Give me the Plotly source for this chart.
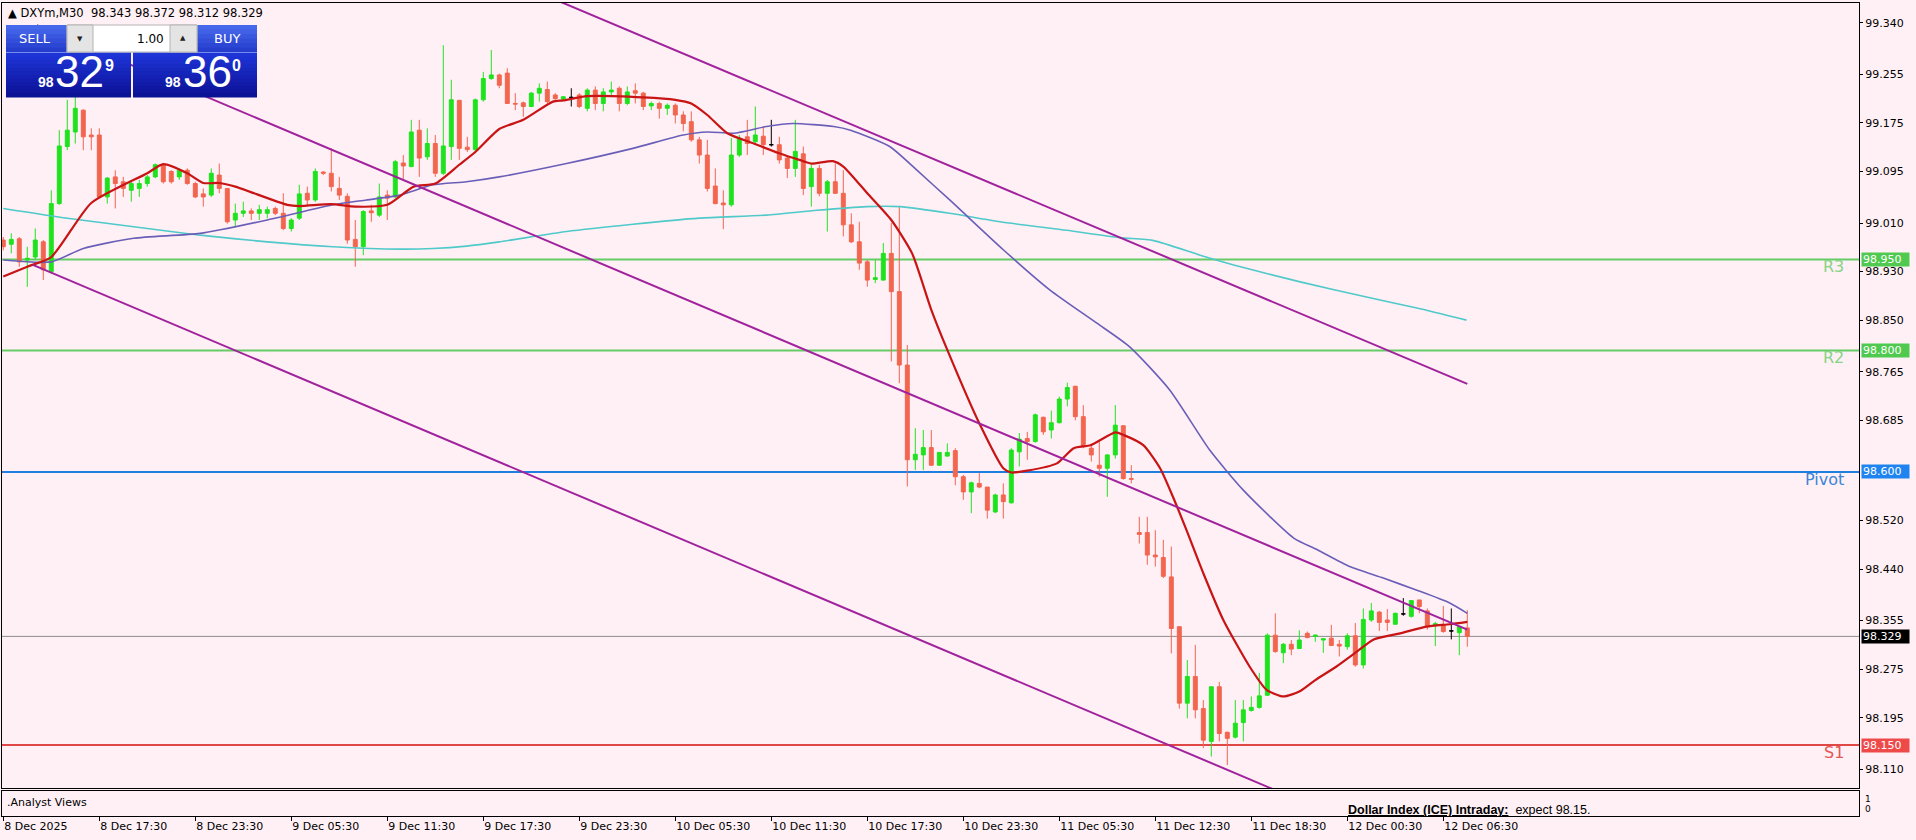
import plotly.graph_objects as go

# ======================= DATA =======================
symbol = "DXYm,M30"
last_bar_ohlc = [98.343, 98.372, 98.312, 98.329]
sell_price = "98.329"
buy_price = "98.360"
lot_size = "1.00"

time_labels = ["8 Dec 2025", "8 Dec 17:30", "8 Dec 23:30", "9 Dec 05:30", "9 Dec 11:30",
               "9 Dec 17:30", "9 Dec 23:30", "10 Dec 05:30", "10 Dec 11:30", "10 Dec 17:30",
               "10 Dec 23:30", "11 Dec 05:30", "11 Dec 12:30", "11 Dec 18:30", "12 Dec 00:30",
               "12 Dec 06:30"]
time_label_bars = [0, 12, 24, 36, 48, 60, 72, 84, 96, 108, 120, 132, 144, 156, 168, 180]

opens = [98.982, 98.975, 98.984, 98.949, 98.954, 98.979, 98.930, 99.042, 99.136, 99.160,
         99.196, 99.155, 99.155, 99.053, 99.086, 99.078, 99.064, 99.067, 99.075, 99.086,
         99.106, 99.095, 99.086, 99.097, 99.075, 99.058, 99.056, 99.089, 99.067, 99.015,
         99.026, 99.030, 99.026, 99.026, 99.034, 99.026, 99.001, 99.018, 99.059, 99.048,
         99.094, 99.092, 99.067, 99.054, 98.983, 98.971, 99.030, 99.023, 99.056, 99.053,
         99.109, 99.103, 99.163, 99.119, 99.141, 99.092, 99.136, 99.212, 99.135, 99.131,
         99.213, 99.248, 99.254, 99.257, 99.207, 99.208, 99.202, 99.224, 99.230, 99.221,
         99.214, 99.217, 99.221, 99.199, 99.229, 99.207, 99.226, 99.232, 99.207, 99.228,
         99.224, 99.203, 99.207, 99.199, 99.204, 99.188, 99.177, 99.147, 99.122, 99.071,
         99.043, 99.040, 99.122, 99.152, 99.144, 99.153, 99.139, 99.139, 99.117, 99.100,
         99.124, 99.070, 99.100, 99.059, 99.078, 99.059, 99.007, 98.979, 98.946, 98.917,
         98.916, 98.960, 98.897, 98.776, 98.620, 98.628, 98.640, 98.611, 98.626, 98.635,
         98.592, 98.567, 98.581, 98.575, 98.534, 98.562, 98.549, 98.633, 98.655, 98.650,
         98.690, 98.669, 98.681, 98.720, 98.741, 98.691, 98.639, 98.611, 98.606, 98.628,
         98.676, 98.589, 98.500, 98.500, 98.463, 98.459, 98.427, 98.345, 98.219, 98.263,
         98.210, 98.156, 98.246, 98.171, 98.163, 98.187, 98.207, 98.212, 98.232, 98.331,
         98.302, 98.316, 98.309, 98.334, 98.329, 98.323, 98.326, 98.316, 98.312, 98.330,
         98.282, 98.356, 98.369, 98.356, 98.349, 98.366, 98.362, 98.389, 98.371, 98.347,
         98.348, 98.338, 98.335, 98.343]
highs = [98.987, 98.993, 98.987, 98.971, 99.001, 98.982, 99.064, 99.163, 99.213, 99.218,
         99.197, 99.166, 99.166, 99.086, 99.097, 99.086, 99.081, 99.081, 99.089, 99.108,
         99.108, 99.097, 99.100, 99.100, 99.078, 99.067, 99.100, 99.108, 99.067, 99.042,
         99.045, 99.034, 99.040, 99.037, 99.037, 99.059, 99.018, 99.073, 99.070, 99.100,
         99.095, 99.133, 99.086, 99.059, 99.015, 99.031, 99.040, 99.075, 99.064, 99.114,
         99.122, 99.180, 99.180, 99.166, 99.155, 99.303, 99.246, 99.213, 99.152, 99.215,
         99.259, 99.295, 99.256, 99.265, 99.224, 99.210, 99.226, 99.240, 99.243, 99.224,
         99.219, 99.232, 99.224, 99.232, 99.235, 99.232, 99.243, 99.235, 99.235, 99.240,
         99.226, 99.210, 99.210, 99.207, 99.207, 99.194, 99.194, 99.152, 99.147, 99.100,
         99.064, 99.150, 99.155, 99.180, 99.202, 99.169, 99.180, 99.152, 99.119, 99.180,
         99.136, 99.106, 99.106, 99.081, 99.108, 99.097, 99.026, 99.012, 98.949, 98.949,
         98.977, 99.010, 99.037, 98.809, 98.672, 98.669, 98.669, 98.633, 98.647, 98.639,
         98.595, 98.584, 98.598, 98.575, 98.564, 98.581, 98.639, 98.664, 98.666, 98.696,
         98.691, 98.701, 98.724, 98.747, 98.742, 98.710, 98.644, 98.650, 98.629, 98.710,
         98.677, 98.611, 98.526, 98.526, 98.504, 98.488, 98.477, 98.345, 98.290, 98.315,
         98.224, 98.246, 98.254, 98.172, 98.224, 98.224, 98.230, 98.269, 98.334, 98.367,
         98.318, 98.323, 98.339, 98.337, 98.332, 98.325, 98.348, 98.323, 98.334, 98.351,
         98.375, 98.384, 98.371, 98.374, 98.368, 98.392, 98.389, 98.389, 98.375, 98.353,
         98.379, 98.375, 98.346, 98.372]
lows = [98.965, 98.960, 98.938, 98.905, 98.949, 98.916, 98.927, 99.040, 99.130, 99.141,
        99.130, 99.130, 99.051, 99.042, 99.034, 99.053, 99.045, 99.053, 99.070, 99.084,
        99.075, 99.075, 99.081, 99.073, 99.051, 99.037, 99.053, 99.059, 99.009, 99.004,
        99.020, 99.015, 99.015, 99.018, 99.023, 98.998, 98.996, 99.015, 99.037, 99.045,
        99.089, 99.062, 99.048, 98.976, 98.938, 98.957, 99.012, 99.020, 99.015, 99.051,
        99.081, 99.102, 99.086, 99.114, 99.086, 99.089, 99.114, 99.114, 99.127, 99.125,
        99.210, 99.246, 99.232, 99.206, 99.196, 99.185, 99.201, 99.210, 99.207, 99.210,
        99.213, 99.202, 99.199, 99.194, 99.196, 99.194, 99.221, 99.194, 99.204, 99.207,
        99.196, 99.196, 99.182, 99.188, 99.174, 99.161, 99.144, 99.108, 99.062, 99.041,
        99.000, 99.037, 99.119, 99.122, 99.141, 99.122, 99.136, 99.108, 99.084, 99.086,
        99.056, 99.037, 99.054, 98.996, 99.058, 98.988, 98.977, 98.933, 98.905, 98.911,
        98.915, 98.782, 98.746, 98.576, 98.603, 98.603, 98.610, 98.610, 98.625, 98.578,
        98.554, 98.532, 98.573, 98.523, 98.532, 98.523, 98.548, 98.609, 98.620, 98.648,
        98.661, 98.655, 98.680, 98.708, 98.685, 98.639, 98.617, 98.592, 98.559, 98.622,
        98.587, 98.581, 98.482, 98.447, 98.444, 98.425, 98.301, 98.210, 98.194, 98.194,
        98.145, 98.131, 98.156, 98.117, 98.161, 98.156, 98.205, 98.210, 98.231, 98.302,
        98.285, 98.298, 98.308, 98.326, 98.320, 98.302, 98.313, 98.296, 98.307, 98.279,
        98.276, 98.353, 98.338, 98.338, 98.348, 98.363, 98.360, 98.367, 98.340, 98.313,
        98.335, 98.324, 98.298, 98.312]
closes = [98.971, 98.983, 98.946, 98.952, 98.982, 98.933, 99.042, 99.137, 99.163, 99.199,
          99.152, 99.152, 99.053, 99.084, 99.075, 99.067, 99.075, 99.075, 99.086, 99.106,
          99.078, 99.078, 99.097, 99.075, 99.053, 99.053, 99.092, 99.067, 99.012, 99.026,
          99.030, 99.026, 99.032, 99.032, 99.026, 99.001, 99.015, 99.058, 99.048, 99.095,
          99.092, 99.070, 99.056, 98.982, 98.971, 99.029, 99.027, 99.053, 99.051, 99.111,
          99.104, 99.160, 99.117, 99.141, 99.092, 99.137, 99.213, 99.133, 99.131, 99.213,
          99.248, 99.254, 99.237, 99.207, 99.206, 99.202, 99.224, 99.232, 99.210, 99.215,
          99.218, 99.217, 99.202, 99.229, 99.207, 99.226, 99.229, 99.207, 99.226, 99.224,
          99.202, 99.207, 99.199, 99.204, 99.188, 99.174, 99.147, 99.122, 99.067, 99.042,
          99.040, 99.122, 99.150, 99.141, 99.155, 99.139, 99.139, 99.114, 99.100, 99.128,
          99.067, 99.100, 99.059, 99.078, 99.059, 99.007, 98.979, 98.944, 98.916, 98.920,
          98.960, 98.897, 98.776, 98.620, 98.629, 98.640, 98.611, 98.632, 98.632, 98.592,
          98.567, 98.582, 98.575, 98.537, 98.562, 98.551, 98.636, 98.654, 98.650, 98.694,
          98.666, 98.681, 98.720, 98.739, 98.691, 98.642, 98.628, 98.606, 98.628, 98.677,
          98.589, 98.588, 98.497, 98.463, 98.460, 98.428, 98.342, 98.219, 98.263, 98.208,
          98.158, 98.246, 98.169, 98.161, 98.186, 98.208, 98.212, 98.231, 98.331, 98.304,
          98.316, 98.308, 98.323, 98.327, 98.331, 98.325, 98.314, 98.313, 98.330, 98.282,
          98.357, 98.371, 98.352, 98.352, 98.367, 98.366, 98.388, 98.378, 98.346, 98.350,
          98.337, 98.338, 98.345, 98.329]

# moving averages (bar position, value)
ma_fast_bars = [0, 3, 6, 11, 18, 20, 23, 25, 27, 29, 35.5, 37, 41, 44, 48, 51.3, 54, 57, 59,
                62, 65, 68.7, 70, 73, 80, 84, 86, 88, 90.5, 93.8, 97, 99.5, 101, 103.7, 105,
                108, 111, 113.6, 116, 118, 122, 125, 126, 128, 131.7, 133.8, 135.9, 139, 140,
                142.5, 144.6, 146.2, 147.9, 150, 152.5, 155.8, 157.9, 160, 162, 164, 166.6,
                169.2, 171.3, 174.6, 177.9, 180.8, 183]
ma_fast_vals = [98.922, 98.938, 98.954, 99.043, 99.092, 99.107, 99.092, 99.076, 99.076, 99.070,
                99.040, 99.038, 99.041, 99.037, 99.040, 99.070, 99.075, 99.106, 99.127, 99.165,
                99.180, 99.210, 99.212, 99.219, 99.217, 99.213, 99.207, 99.188, 99.158, 99.141,
                99.125, 99.114, 99.108, 99.112, 99.103, 99.059, 99.015, 98.960, 98.867, 98.801,
                98.680, 98.606, 98.599, 98.602, 98.614, 98.639, 98.644, 98.665, 98.661, 98.644,
                98.606, 98.559, 98.504, 98.433, 98.356, 98.279, 98.241, 98.230, 98.238, 98.257,
                98.279, 98.304, 98.324, 98.334, 98.345, 98.349, 98.353]
ma_mid_bars = [0, 6, 10, 16.3, 24.6, 33, 41.2, 45.4, 49.6, 53.7, 57.9, 62, 70.4, 78.7, 85, 88,
               91.3, 95.4, 98.7, 103.8, 105.9, 110.8, 114.2, 118.3, 125, 130.8, 136.7, 140.8,
               145.8, 150.8, 155, 161.3, 164.2, 168.3, 172.5, 176.7, 180.8, 183]
ma_mid_vals = [98.949, 98.946, 98.968, 98.985, 98.993, 99.015, 99.040, 99.048, 99.056, 99.073,
               99.078, 99.086, 99.108, 99.133, 99.155, 99.160, 99.158, 99.169, 99.174, 99.169,
               99.163, 99.136, 99.097, 99.048, 98.966, 98.900, 98.845, 98.806, 98.735, 98.636,
               98.570, 98.491, 98.472, 98.444, 98.425, 98.405, 98.384, 98.367]
ma_slow_bars = [0, 8, 16.3, 24.6, 33, 41.2, 49.6, 53.7, 57.9, 62, 70.4, 78.7, 87, 95.4, 101.7,
                107.9, 112.1, 118.3, 124.6, 132.9, 139.6, 143.8, 149.6, 153.8, 162.1, 170.4,
                176.7, 182.9]
ma_slow_vals = [99.034, 99.018, 99.004, 98.990, 98.979, 98.971, 98.967, 98.968, 98.972, 98.979,
                98.996, 99.008, 99.018, 99.023, 99.031, 99.037, 99.037, 99.026, 99.012, 98.998,
                98.986, 98.981, 98.957, 98.941, 98.913, 98.888, 98.870, 98.850]

# descending channel (anchor bar, price)
channel_upper_bars = [4, 183]
channel_upper_vals = [99.739, 98.745]
channel_mid_bars = [4.2, 183]
channel_mid_vals = [99.336, 98.340]
channel_lower_bars = [3.7, 183]
channel_lower_vals = [98.941, 97.942]

level_names = ["R3", "R2", "Pivot", "S1"]
level_values = [98.950, 98.800, 98.600, 98.150]
current_price = 98.329

price_ticks = [99.340, 99.255, 99.175, 99.095, 99.010, 98.930, 98.850, 98.765, 98.685,
               98.520, 98.440, 98.355, 98.275, 98.195, 98.110]
y_range = [98.0792, 99.3725]
x_range = [-0.16, 231.96]

pane_name = ".Analyst Views"
view_title = "Dollar Index (ICE) Intraday:"
view_text = "expect 98.15."

# ======================= STYLE =======================
W, H = 1916, 840
PL, PR, PT, PB = 2, 1859, 3, 816
MAIN_BOTTOM, SUB_TOP = 788, 791
BG = "#fff0f5"
BULL = "#1fe21f"
BEAR = "#f2654f"
DOJI = "#000000"
MA_FAST_C = "#c81414"
MA_MID_C = "#6a5fb8"
MA_SLOW_C = "#4fc9c9"
CHANNEL_C = "#a0229c"
LEVEL_LINE_C = {"R3": "#66cc66", "R2": "#66cc66", "Pivot": "#1f7fe0", "S1": "#e04848"}
LEVEL_BOX_C = {"R3": "#4fc94f", "R2": "#4fc94f", "Pivot": "#1f84f0", "S1": "#ee4a4a"}
LEVEL_TXT_C = {"R3": "#86d486", "R2": "#86d486", "Pivot": "#3d85d6", "S1": "#e45454"}
FONT = "DejaVu Sans"


def fx(px):
    return (px - PL) / (PR - PL)


def fy(py):
    return (PB - py) / (PB - PT)


fig = go.Figure()

# candles
idx = list(range(len(opens)))
norm = [i for i in idx if opens[i] != closes[i]]
doji = [i for i in idx if opens[i] == closes[i]]
fig.add_trace(go.Candlestick(
    x=[idx[i] for i in norm], open=[opens[i] for i in norm], high=[highs[i] for i in norm],
    low=[lows[i] for i in norm], close=[closes[i] for i in norm],
    increasing=dict(line=dict(color=BULL, width=1), fillcolor=BULL),
    decreasing=dict(line=dict(color=BEAR, width=1), fillcolor=BEAR),
    whiskerwidth=0, showlegend=False, xaxis="x", yaxis="y"))
fig.add_trace(go.Candlestick(
    x=[idx[i] for i in doji], open=[opens[i] for i in doji], high=[highs[i] for i in doji],
    low=[lows[i] for i in doji], close=[closes[i] for i in doji],
    increasing=dict(line=dict(color=DOJI, width=1), fillcolor=DOJI),
    decreasing=dict(line=dict(color=DOJI, width=1), fillcolor=DOJI),
    whiskerwidth=0, showlegend=False, xaxis="x", yaxis="y"))

# moving averages
for bx, vals, col, w in [(ma_slow_bars, ma_slow_vals, MA_SLOW_C, 1.6),
                         (ma_mid_bars, ma_mid_vals, MA_MID_C, 1.6),
                         (ma_fast_bars, ma_fast_vals, MA_FAST_C, 2.2)]:
    fig.add_trace(go.Scatter(x=bx, y=vals, mode="lines",
                             line=dict(color=col, width=w, shape="spline", smoothing=0.6),
                             showlegend=False, hoverinfo="skip"))

# channel lines
for bx, vals in [(channel_upper_bars, channel_upper_vals),
                 (channel_mid_bars, channel_mid_vals),
                 (channel_lower_bars, channel_lower_vals)]:
    fig.add_trace(go.Scatter(x=bx, y=vals, mode="lines", line=dict(color=CHANNEL_C, width=2),
                             showlegend=False, hoverinfo="skip"))

# empty sub pane trace to keep axes alive
fig.add_trace(go.Scatter(x=[0], y=[0.5], mode="markers", marker=dict(opacity=0),
                         xaxis="x2", yaxis="y2", showlegend=False, hoverinfo="skip"))

shapes = []
annotations = []

# pivot levels
for name, val in zip(level_names, level_values):
    shapes.append(dict(type="line", xref="x domain", yref="y", x0=0, x1=1, y0=val, y1=val,
                       line=dict(color=LEVEL_LINE_C[name], width=2), layer="below"))
    annotations.append(dict(xref="paper", yref="y", x=1, y=val, xanchor="left", yanchor="middle",
                            xshift=2, text=f"{val:.3f}", showarrow=False,
                            font=dict(family=FONT, size=11, color="white"),
                            bgcolor=LEVEL_BOX_C[name], width=45, height=11, borderpad=1,
                            align="left"))
    annotations.append(dict(xref="paper", yref="y", x=1, y=val, xanchor="right", yanchor="top",
                            xshift=-13, yshift=4, text=name, showarrow=False,
                            font=dict(family=FONT, size=16, color=LEVEL_TXT_C[name])))

# current price line
shapes.append(dict(type="line", xref="x domain", yref="y", x0=0, x1=1, y0=current_price,
                   y1=current_price, line=dict(color="#8c8c8c", width=1), layer="below"))
annotations.append(dict(xref="paper", yref="y", x=1, y=current_price, xanchor="left",
                        yanchor="middle", xshift=2, text=f"{current_price:.3f}", showarrow=False,
                        font=dict(family=FONT, size=11, color="white"), bgcolor="#000000",
                        width=45, height=11, borderpad=1, align="left"))


def rect(x0, y0, x1, y1, fill, line=None):
    shapes.append(dict(type="rect", xref="paper", yref="paper", x0=fx(x0), x1=fx(x1),
                       y0=fy(y1), y1=fy(y0), fillcolor=fill, layer="above",
                       line=dict(width=0) if line is None else dict(color=line, width=1)))


def text(px, py, s, size, color, xanchor="center", family=FONT, yanchor="middle"):
    annotations.append(dict(xref="paper", yref="paper", x=fx(px), y=fy(py), text=s,
                            xanchor=xanchor, yanchor=yanchor, showarrow=False,
                            font=dict(family=family, size=size, color=color)))


# one-click trading panel
def blend(c0, c1, t):
    return "rgb(%d,%d,%d)" % tuple(round(a + (b - a) * t) for a, b in zip(c0, c1))


for bx0, bx1 in [(6, 131), (133, 257)]:
    n = 6
    for k in range(n):
        y0 = 25 + (52 - 25) * k / n
        y1 = 25 + (52 - 25) * (k + 1) / n + 0.6
        rect(bx0, y0, bx1, y1, blend((70, 105, 235), (38, 62, 205), k / (n - 1)))
    n = 12
    for k in range(n):
        y0 = 53 + (97 - 53) * k / n
        y1 = 53 + (97 - 53) * (k + 1) / n + 0.6
        rect(bx0, y0, bx1, y1, blend((30, 52, 215), (12, 18, 150), k / (n - 1)))
    rect(bx0, 52, bx1, 53, "rgb(120,140,235)")

# lot box
rect(67, 25, 197, 52, "#ffffff", "#b4b4b4")
rect(67, 25, 93, 52, "#e4e4e4", "#b4b4b4")
rect(170, 25, 197, 52, "#e4e4e4", "#b4b4b4")

text(35, 39, "SELL", 13, "white")
text(227, 39, "BUY", 13, "white")
text(80, 39, "▼", 7, "#222222")
text(183, 38, "▲", 7, "#222222")
text(166, 39, lot_size, 12, "#000000", xanchor="right")

sp_big, sp_small, sp_sup = sell_price[:2], sell_price[3:5], sell_price[5:]
bp_big, bp_small, bp_sup = buy_price[:2], buy_price[3:5], buy_price[5:]
text(46, 82, "<b>" + sp_big + "</b>", 14, "white", family="Liberation Sans")
text(79, 72, sp_small, 44, "white", family="Liberation Sans")
text(109, 66, "<b>" + sp_sup + "</b>", 16, "white", family="Liberation Sans")
text(173, 82, "<b>" + bp_big + "</b>", 14, "white", family="Liberation Sans")
text(207, 72, bp_small, 44, "white", family="Liberation Sans")
text(236, 66, "<b>" + bp_sup + "</b>", 16, "white", family="Liberation Sans")

# header
hdr = "▲ " + symbol + "  " + " ".join(f"{v:.3f}" for v in last_bar_ohlc)
text(6, 13, hdr, 11.5, "#000000", xanchor="left")

# indicator pane texts
text(5, 802, pane_name, 11, "#000000", xanchor="left")
text(1346, 810, "<b><u>" + view_title + "</u></b>  " + view_text, 12.5, "#000000",
     xanchor="left", family="Liberation Sans")
text(1863, 799, "1", 9, "#000000", xanchor="left")
text(1863, 809, "0", 9, "#000000", xanchor="left")

main_dom = [fy(MAIN_BOTTOM), 1]
sub_dom = [0, fy(SUB_TOP)]

axis_common = dict(showgrid=False, zeroline=False, showline=True, mirror=True,
                   linecolor="#000000", linewidth=1)

fig.update_layout(
    width=W, height=H, autosize=False,
    margin=dict(l=PL, r=W - PR, t=PT, b=H - PB, pad=0),
    paper_bgcolor=BG, plot_bgcolor=BG,
    hovermode=False, showlegend=False,
    xaxis=dict(domain=[0, 1], range=x_range, anchor="y", showticklabels=False, ticks="",
               rangeslider=dict(visible=False), **axis_common),
    yaxis=dict(domain=main_dom, range=y_range, side="right", anchor="x",
               tickvals=price_ticks, ticktext=[f"{v:.3f}" for v in price_ticks],
               ticks="outside", ticklen=3, tickcolor="#000000",
               tickfont=dict(family=FONT, size=11, color="#000000"), **axis_common),
    xaxis2=dict(domain=[0, 1], range=x_range, anchor="y2", matches="x",
                tickvals=time_label_bars, ticktext=time_labels, ticks="outside", ticklen=4,
                tickcolor="#000000", ticklabelposition="outside right",
                tickfont=dict(family=FONT, size=11, color="#000000"),
                rangeslider=dict(visible=False), **axis_common),
    yaxis2=dict(domain=sub_dom, range=[0, 1], side="right", anchor="x2",
                showticklabels=False, ticks="", **axis_common),
    shapes=shapes, annotations=annotations,
)

fig.write_html("out.html", config={"displayModeBar": False},
               post_script="document.body.style.margin='0';document.body.style.overflow='hidden';")
